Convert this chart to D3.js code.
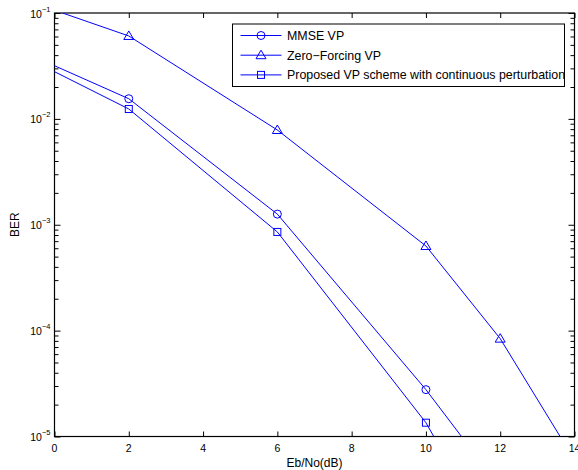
<!DOCTYPE html>
<html>
<head>
<meta charset="utf-8">
<script src="https://cdn.jsdelivr.net/npm/d3@7"></script>
<style>
  body { margin: 0; background: #fff; }
  svg text { font-family: "Liberation Sans", Arial, Helvetica, sans-serif; fill: #000; }
</style>
</head>
<body>
<svg width="578" height="470"></svg>
<script>
// series (x = Eb/No in dB, y = BER)
var seriesNames = ["MMSE VP", "Zero\u2212Forcing VP", "Proposed VP scheme with continuous perturbation"];
var seriesMarkers = ["circle", "triangle", "square"];

var mmseX = [-2, 2, 6, 10, 12];
var mmseBer = [0.0651, 0.0155, 0.00126, 2.77e-5, 3.3e-6];

var zfX = [-2, 2, 6, 10, 12, 14];
var zfBer = [0.186, 0.0607, 0.00785, 6.3e-4, 8.4e-5, 6.0e-6];

var propX = [-2, 2, 6, 10, 12];
var propBer = [0.0628, 0.0124, 8.55e-4, 1.35e-5, 8.0e-7];

var xTicks = [0, 2, 4, 6, 8, 10, 12, 14];
var yDecades = [-5, -4, -3, -2, -1];

var svg = d3.select("svg");
var blue = "#0000ff";

// plot box (note: "top" would clash with window.top)
var pL = 54.5, pR = 574.5, pT = 13, pB = 436.5;

var x = d3.scaleLinear().domain([0, 14]).range([pL, pR]);
var y = d3.scaleLog().domain([1e-5, 1e-1]).range([pB, pT]);

// clip for data
svg.append("clipPath").attr("id", "plotClip")
  .append("rect").attr("x", pL).attr("y", pT)
  .attr("width", pR - pL).attr("height", pB - pT);

// minor ticks for log axis
var minor = [];
yDecades.slice(0, -1).forEach(function(e) {
  for (var k = 2; k <= 9; k++) minor.push(k * Math.pow(10, e));
});

// axes (inward ticks, all four sides)
var axisG = svg.append("g");
axisG.append("g").attr("transform", "translate(0," + pB + ")")
  .call(d3.axisBottom(x).tickValues(xTicks).tickSizeInner(-5).tickSizeOuter(0).tickFormat(""));
axisG.append("g").attr("transform", "translate(0," + pT + ")")
  .call(d3.axisTop(x).tickValues(xTicks).tickSizeInner(-5).tickSizeOuter(0).tickFormat(""));

var yMajor = yDecades.map(function(e) { return Math.pow(10, e); });
axisG.append("g").attr("transform", "translate(" + pL + ",0)")
  .call(d3.axisLeft(y).tickValues(yMajor).tickSizeInner(-6).tickSizeOuter(0).tickFormat(""));
axisG.append("g").attr("transform", "translate(" + pR + ",0)")
  .call(d3.axisRight(y).tickValues(yMajor).tickSizeInner(-6).tickSizeOuter(0).tickFormat(""));
axisG.append("g").attr("transform", "translate(" + pL + ",0)")
  .call(d3.axisLeft(y).tickValues(minor).tickSizeInner(-4).tickSizeOuter(0).tickFormat(""));
axisG.append("g").attr("transform", "translate(" + pR + ",0)")
  .call(d3.axisRight(y).tickValues(minor).tickSizeInner(-4).tickSizeOuter(0).tickFormat(""));

axisG.selectAll(".domain").remove();
axisG.selectAll("line").attr("stroke", "#000").attr("stroke-width", 1);

// box
svg.append("rect").attr("x", pL).attr("y", pT)
  .attr("width", pR - pL).attr("height", pB - pT)
  .attr("fill", "none").attr("stroke", "#000").attr("stroke-width", 1.2);

// x tick labels
svg.append("g").selectAll("text").data(xTicks).enter().append("text")
  .attr("x", function(d) { return x(d); })
  .attr("y", pB + 15)
  .attr("text-anchor", "middle")
  .style("font-size", "10.5px")
  .text(function(d) { return d; });

// y tick labels: 10^e
var yl = svg.append("g").selectAll("text").data(yDecades).enter().append("text")
  .attr("x", pL - 4)
  .attr("y", function(d) { return y(Math.pow(10, d)) + 4.5; })
  .attr("text-anchor", "end")
  .style("font-size", "10.5px");
yl.append("tspan").text("10");
yl.append("tspan").attr("dy", -6).style("font-size", "7.5px")
  .text(function(d) { return "\u2212" + (-d); });

// axis labels
svg.append("text").attr("x", x(7)).attr("y", 467)
  .attr("text-anchor", "middle").style("font-size", "12px").text("Eb/No(dB)");
svg.append("text").attr("transform", "translate(18.5," + ((pT + pB) / 2) + ") rotate(-90)")
  .attr("text-anchor", "middle").style("font-size", "12px").text("BER");

// markers
function drawMarker(g, kind, cx, cy) {
  if (kind === "circle") {
    g.append("circle").attr("cx", cx).attr("cy", cy).attr("r", 4)
      .attr("fill", "none").attr("stroke", blue);
  } else if (kind === "triangle") {
    g.append("path").attr("d", "M" + cx + "," + (cy - 5) + "L" + (cx + 5) + "," + (cy + 3.5) + "L" + (cx - 5) + "," + (cy + 3.5) + "Z")
      .attr("fill", "none").attr("stroke", blue);
  } else {
    g.append("rect").attr("x", cx - 3.5).attr("y", cy - 3.5).attr("width", 7).attr("height", 7)
      .attr("fill", "none").attr("stroke", blue);
  }
}

var series = [
  { xs: mmseX, ys: mmseBer },
  { xs: zfX, ys: zfBer },
  { xs: propX, ys: propBer }
];

var line = d3.line()
  .x(function(d) { return x(d[0]); })
  .y(function(d) { return y(d[1]); });

var dataG = svg.append("g").attr("clip-path", "url(#plotClip)");
series.forEach(function(s, i) {
  var pts = d3.zip(s.xs, s.ys);
  dataG.append("path").datum(pts).attr("d", line)
    .attr("fill", "none").attr("stroke", blue).attr("stroke-width", 1);
  pts.forEach(function(p) {
    drawMarker(dataG, seriesMarkers[i], x(p[0]), y(p[1]));
  });
});

// legend
var lg = svg.append("g");
lg.append("rect").attr("x", 232.5).attr("y", 24).attr("width", 332).attr("height", 62.5)
  .attr("fill", "#fff").attr("stroke", "#000").attr("stroke-width", 1);
seriesNames.forEach(function(name, i) {
  var ry = 35.5 + i * 19.7;
  lg.append("line").attr("x1", 240.5).attr("x2", 281.5).attr("y1", ry).attr("y2", ry)
    .attr("stroke", blue).attr("stroke-width", 1);
  drawMarker(lg, seriesMarkers[i], 261, ry);
  lg.append("text").attr("x", 287).attr("y", ry + 4.4)
    .style("font-size", "12.4px").text(name);
});
</script>
</body>
</html>
